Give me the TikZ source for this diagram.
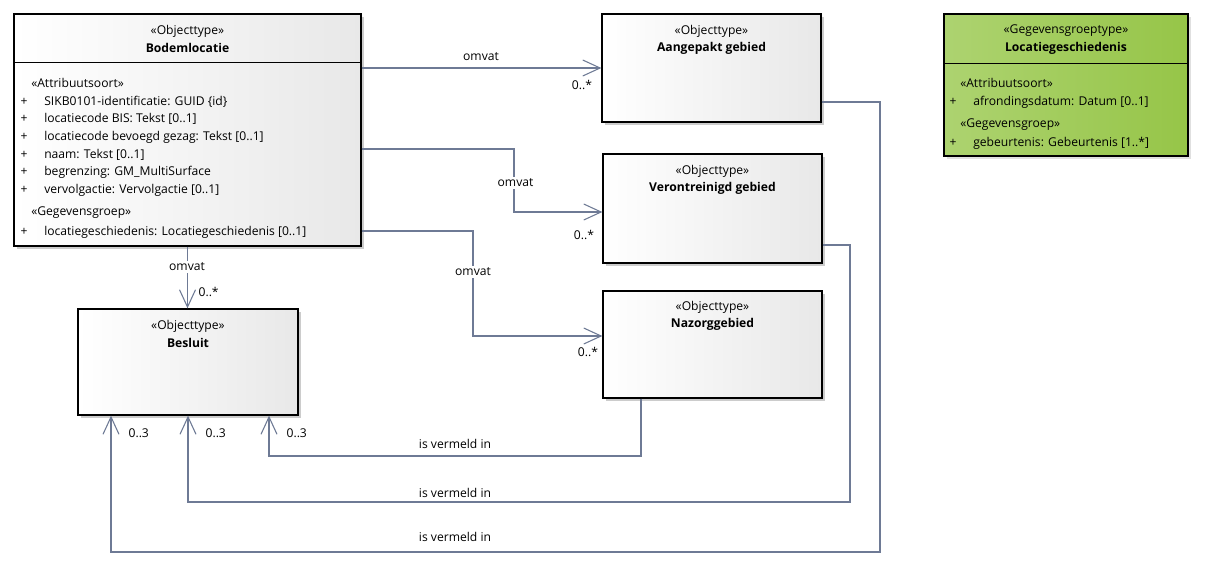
\documentclass[tikz,border=0pt]{standalone}
\usepackage{fontspec}
\setmainfont{Open Sans}
\usetikzlibrary{arrows.meta,shadows,fit,calc}
\definecolor{linec}{HTML}{6E7A95}
\definecolor{greenA}{HTML}{ADD370}
\definecolor{greenB}{HTML}{96C548}
\begin{document}
\begin{tikzpicture}[x=0.75pt,y=-0.75pt,
  font=\fontsize{9.1}{11}\selectfont,
  objbox/.style={draw=black, line width=1pt, left color=white, right color=black!9,
    drop shadow={shadow xshift=2.2pt, shadow yshift=-2.2pt, fill=black!20, opacity=1}, inner sep=0pt},
  grpbox/.style={draw=black, line width=1pt, left color=greenA, right color=greenB,
    drop shadow={shadow xshift=2.2pt, shadow yshift=-2.2pt, fill=black!12, opacity=1}, inner sep=0pt},
  sepline/.style={draw=black, line width=1pt},
  assoc/.style={draw=linec, line width=0.8pt},
  assocarr/.style={assoc, -{Straight Barb[length=13pt,width=12pt,line width=0.8pt]}},
  txt/.style={inner sep=0pt, text=black},
  ttl/.style={txt, font=\fontsize{9.1}{11}\selectfont\bfseries},
  lbl/.style={inner sep=1pt, text=black},
  wlbl/.style={lbl, fill=white, inner sep=1.5pt}
]
\useasboundingbox[fill=white] (0,0) rectangle (1206,567);

% ---------- boxes ----------
\node[objbox, fit={(14,14)(361,246)}] (bodem) {};
\node[objbox, fit={(602,14)(821,122)}] (aang) {};
\node[objbox, fit={(603,154)(822,263)}] (veron) {};
\node[objbox, fit={(603,291)(822,398)}] (nazorg) {};
\node[objbox, fit={(78,309)(298,415)}] (besluit) {};
\node[grpbox, fit={(944,14)(1188,156)}] (locg) {};

\draw[sepline] ($(bodem.north west)+(0,49)$) -- ($(bodem.north east)+(0,49)$);
\draw[sepline] ($(locg.north west)+(0,50)$) -- ($(locg.north east)+(0,50)$);

% ---------- Bodemlocatie texts ----------
\node[txt] (b1) at (187.5,31) {«Objecttype»};
\node[ttl] (b2) at (187.5,48) {Bodemlocatie};
\node[txt, anchor=west] (b3) at (31,83) {«Attribuutsoort»};
\foreach \yy/\tt [count=\i] in {102/{SIKB0101-identificatie: GUID \{id\}},
  119/{locatiecode BIS: Tekst [0..1]},
  137/{locatiecode bevoegd gezag: Tekst [0..1]},
  155/{naam: Tekst [0..1]},
  172/{begrenzing: GM\_MultiSurface},
  190/{vervolgactie: Vervolgactie [0..1]}}{
  \node[txt] (bp\i) at (24,\yy) {+};
  \node[txt, anchor=west] (ba\i) at (44,\yy) {\tt};
}
\node[txt, anchor=west] (b4) at (31,213) {«Gegevensgroep»};
\node[txt] (bp7) at (24,232) {+};
\node[txt, anchor=west] (ba7) at (44,232) {locatiegeschiedenis: Locatiegeschiedenis [0..1]};

% ---------- other object types ----------
\node[txt] (a1) at (711.5,31) {«Objecttype»};
\node[ttl] (a2) at (711.5,48) {Aangepakt gebied};
\node[txt] (v1t) at (712.5,171) {«Objecttype»};
\node[ttl] (v2t) at (712.5,188) {Verontreinigd gebied};
\node[txt] (n1) at (712.5,307) {«Objecttype»};
\node[ttl] (n2) at (712.5,324) {Nazorggebied};
\node[txt] (s1) at (188,326) {«Objecttype»};
\node[ttl] (s2) at (188,343) {Besluit};

% ---------- Locatiegeschiedenis texts ----------
\node[txt] (l1) at (1066,31) {«Gegevensgroeptype»};
\node[ttl] (l2) at (1066,48) {Locatiegeschiedenis};
\node[txt, anchor=west] (l3) at (960,83) {«Attribuutsoort»};
\node[txt] (lp1) at (953,102) {+};
\node[txt, anchor=west] (la1) at (973,102) {afrondingsdatum: Datum [0..1]};
\node[txt, anchor=west] (l4) at (960,125) {«Gegevensgroep»};
\node[txt] (lp2) at (953,143) {+};
\node[txt, anchor=west] (la2) at (973,143) {gebeurtenis: Gebeurtenis [1..*]};

% ---------- helper coordinates ----------
\coordinate (c1) at (0,68);
\coordinate (k2a) at (514,149);
\coordinate (k2b) at (514,212);
\coordinate (k3a) at (473,231);
\coordinate (k3b) at (473,336);
\coordinate (v1) at (880,102);
\coordinate (v1b) at (111,552);
\coordinate (v2) at (850,245);
\coordinate (v2b) at (188,502);
\coordinate (v3) at (641,0);
\coordinate (v3b) at (269,456);

% ---------- omvat connectors ----------
\draw[assocarr] (bodem.east |- c1) -- (aang.west |- c1);
\draw[assocarr] (bodem.east |- k2a) -| (k2b) -- (veron.west |- k2b);
\draw[assocarr] (bodem.east |- k3a) -| (k3b) -- (nazorg.west |- k3b);
\draw[assocarr] (bodem.south) -- (bodem.south |- besluit.north);

% ---------- is vermeld in connectors ----------
\draw[assocarr] (aang.east |- v1) -- (v1) |- (v1b) -- (besluit.south -| v1b);
\draw[assocarr] (veron.east |- v2) -- (v2) |- (v2b) -- (besluit.south -| v2b);
\draw[assocarr] (nazorg.south -| v3) |- (v3b) -- (besluit.south -| v3b);

% ---------- labels ----------
\node[lbl] (o1) at (481,57) {omvat};
\node[wlbl] (o2) at (515.5,183) {omvat};
\node[wlbl] (o3) at (473,272) {omvat};
\node[wlbl] (o4) at (187,267) {omvat};
\node[lbl] (m1) at (582,85) {0..*};
\node[lbl] (m2) at (584,235) {0..*};
\node[lbl] (m3) at (588,352) {0..*};
\node[lbl, anchor=west] (m4) at (197,292) {0..*};
\node[lbl, anchor=west] (q1) at (127,433) {0..3};
\node[lbl, anchor=west] (q2) at (204,433) {0..3};
\node[lbl, anchor=west] (q3) at (285,433) {0..3};
\node[lbl] (i1) at (455,444) {is vermeld in};
\node[lbl] (i2) at (455,493) {is vermeld in};
\node[lbl] (i3) at (455,537) {is vermeld in};
\end{tikzpicture}
\end{document}
